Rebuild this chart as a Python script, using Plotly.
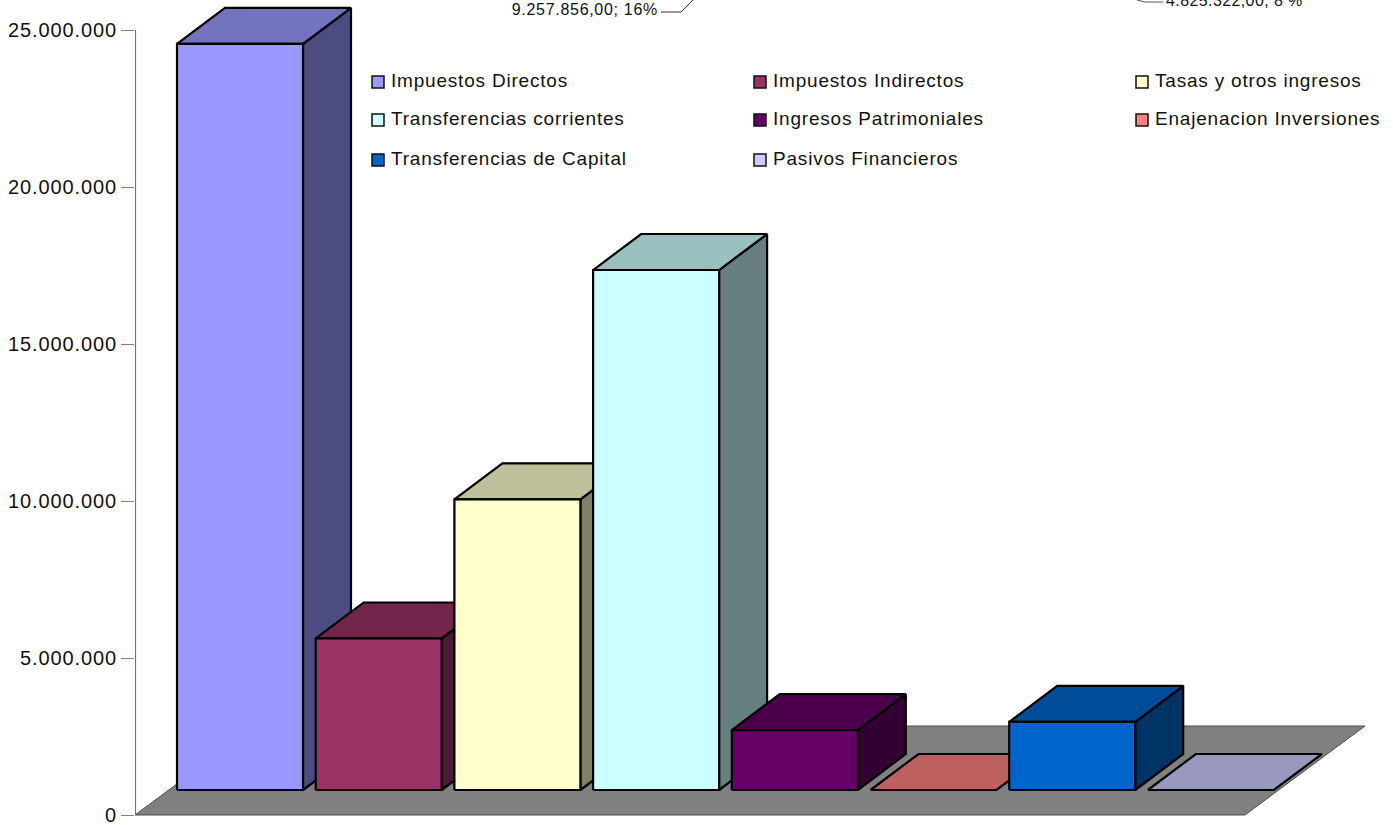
import plotly.graph_objects as go

categories = ["Impuestos Directos", "Impuestos Indirectos", "Tasas y otros ingresos",
              "Transferencias corrientes", "Ingresos Patrimoniales", "Enajenacion Inversiones",
              "Transferencias de Capital", "Pasivos Financieros"]
values = [23760000, 4825322, 9257856, 16560000, 1910000, 0, 2170000, 0]
colors = ["#9999FF", "#993366", "#FFFFCC", "#CCFFFF", "#660066", "#FF8080", "#0066CC", "#CCCCFF"]
tick_values = [0, 5000000, 10000000, 15000000, 20000000, 25000000]
tick_labels = ["0", "5.000.000", "10.000.000", "15.000.000", "20.000.000", "25.000.000"]
stray_labels = ["9.257.856,00; 16%", "4.825.322,00; 8 %"]

W, H = 1393, 825
Y0_PX, Y25_PX = 815, 30
UNITS_PER_PX = 25000000 / (Y0_PX - Y25_PX)


def v(px_up):
    return px_up * UNITS_PER_PX


def ypx(p):
    return (Y0_PX - p) * UNITS_PER_PX


def shade(hex_color, f):
    r, g, b = (int(hex_color[i:i + 2], 16) for i in (1, 3, 5))
    return f"rgb({round(r * f)},{round(g * f)},{round(b * f)})"


BAR_W, STEP, X_START = 126, 138.7, 177
DX, DY = 48, v(36)
BASE = v(25)
INK = "#111111"

fig = go.Figure()


def poly(xs, ys, fill, line="black", width=2.2, name=None):
    fig.add_trace(go.Scatter(
        x=xs + xs[:1], y=ys + ys[:1], mode="lines", fill="toself", fillcolor=fill, cliponaxis=False,
        line=dict(color=line, width=width), showlegend=False, hoverinfo="skip", name=name))


def plain_line(xs, ys, color, width=1):
    fig.add_trace(go.Scatter(x=xs, y=ys, mode="lines", line=dict(color=color, width=width),
                             cliponaxis=False, showlegend=False, hoverinfo="skip"))


def text_at(x, y, label, pos, size):
    fig.add_trace(go.Scatter(x=[x], y=[y], mode="text", text=[label], textposition=pos,
                             cliponaxis=False, showlegend=False, hoverinfo="skip",
                             textfont=dict(family="Liberation Sans", size=size, color=INK)))


# floor
poly([135, 1245, 1365, 255], [0, 0, v(89), v(89)], "#808080", line="#4d4d4d", width=1)

# value axis line
plain_line([135.5, 135.5], [0, 25000000], "#707070", width=1.2)

# bars
for i, (cat, val, col) in enumerate(zip(categories, values, colors)):
    x0 = X_START + i * STEP
    x1 = x0 + BAR_W
    top = BASE + val
    if val > 0:
        poly([x1, x1 + DX, x1 + DX, x1], [BASE, BASE + DY, top + DY, top], shade(col, 0.5))
    poly([x0, x0 + DX, x1 + DX, x1], [top, top + DY, top + DY, top], shade(col, 0.75))
    if val > 0:
        poly([x0, x1, x1, x0], [BASE, BASE, top, top], col, name=cat)

# legend
legend_x = [378, 760, 1142]
legend_y = [82, 120, 160]
for i, (cat, col) in enumerate(zip(categories, colors)):
    lx, ly = legend_x[i % 3], ypx(legend_y[i // 3])
    fig.add_trace(go.Scatter(
        x=[lx], y=[ly], mode="markers", name=cat, showlegend=False, hoverinfo="skip",
        marker=dict(symbol="square", size=12, color=col, line=dict(color=INK, width=1.5))))
    text_at(lx + 13, ly, cat, "middle right", 19)

# clipped data labels at the top edge
text_at(658, ypx(11), stray_labels[0], "middle left", 16)
text_at(1166, ypx(2), stray_labels[1], "middle right", 16)
plain_line([661, 681, 693], [ypx(12), ypx(12), ypx(0)], "#333333")
plain_line([1137, 1145, 1163], [ypx(0), ypx(2), ypx(2)], "#555555")

fig.update_layout(
    width=W, height=H, autosize=False,
    margin=dict(l=135, r=0, t=0, b=0, pad=0),
    paper_bgcolor="white", plot_bgcolor="white", showlegend=False,
    xaxis=dict(visible=False, range=[135, W], fixedrange=True),
    yaxis=dict(range=[ypx(H), ypx(0)], tickmode="array", tickvals=tick_values, ticktext=tick_labels,
               showgrid=False, zeroline=False, showline=False, ticklabeloverflow="allow",
               ticks="outside", ticklen=13, tickcolor="#808080", tickwidth=1,
               tickfont=dict(family="Liberation Sans", size=20, color=INK), fixedrange=True),
)

post = """
document.body.style.margin='0';
document.querySelectorAll('.ytick text').forEach(t=>t.style.letterSpacing='0.9px');
document.querySelectorAll('.textpoint text').forEach(t=>{
  const s = t.textContent;
  t.style.letterSpacing = s.includes('16%') ? '0.7px' : (s.includes(';') ? '0.4px' : '0.8px');
});
"""
fig.write_html("out.html", post_script=post, config={"displayModeBar": False})
